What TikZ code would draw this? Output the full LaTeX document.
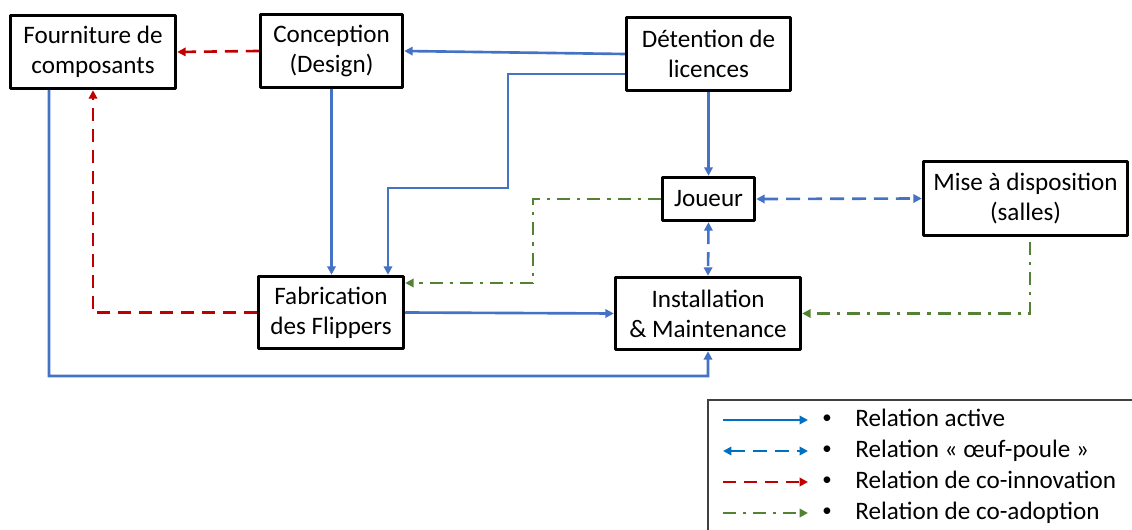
\documentclass[tikz,border=0pt]{standalone}
\usepackage{fontspec}
\setmainfont{Carlito}
\usepackage{tikz}
\usetikzlibrary{arrows.meta}
\definecolor{actblue}{HTML}{4472C4}
\definecolor{legblue}{HTML}{0070C0}
\definecolor{inored}{HTML}{C00000}
\definecolor{adopgreen}{HTML}{548235}

\begin{document}
\begin{tikzpicture}
[x=0.02cm,y=-0.02cm,>={Triangle[length=4.8pt,width=4.8pt]},
font=\fontsize{14.3}{17.2}\selectfont,
box/.style={draw=black,line width=2pt,line join=round,align=center,inner sep=0pt},
active/.style={->,line width=1.5pt,actblue},
oeuf/.style={<->,line width=1.5pt,actblue,dash pattern=on 8pt off 4.5pt},
coinno/.style={->,line width=1.5pt,inored,dash pattern=on 7.4pt off 4.5pt},
coadop/.style={->,line width=1.5pt,adopgreen,dash pattern=on 7.4pt off 4pt on 1.8pt off 4pt}]

\useasboundingbox (0,0) rectangle (1132,530);

\node[box,minimum width=3.3cm,minimum height=1.46cm] (fourn) at (93,52) {Fourniture de\\composants};
\node[box,minimum width=2.84cm,minimum height=1.46cm] (concep) at (331.5,51) {Conception\\(Design)};
\node[box,minimum width=3.28cm,minimum height=1.46cm] (deten) at (708.5,54) {Détention de\\licences};
\node[box,minimum width=1.84cm,minimum height=0.86cm] (joueur) at (708.5,199) {Joueur};
\node[box,minimum width=4.08cm,minimum height=1.48cm] (mise) at (1025.5,198.5) {Mise à disposition\\(salles)};
\node[box,minimum width=2.9cm,minimum height=1.44cm] (fabric) at (331,312.5) {Fabrication\\des Flippers};
\node[box,minimum width=3.7cm,minimum height=1.44cm] (instal) at (708,313.5) {Installation\\\& Maintenance};

\coordinate (k1) at (508,188);
\coordinate (k2) at (533,283);
\coordinate (k3) at (49,376);

\draw[coinno] (concep.west) -- (fourn.east);
\draw[active] (deten.west) -- (concep.east);
\draw[active] ([yshift=-0.4cm]deten.west) -| (k1) -| ([xshift=1.14cm]fabric.north);
\draw[active] (concep.south) -- (concep.south |- fabric.north);
\draw[active] (deten.south) -- (joueur.north);
\draw[oeuf] (joueur.east) -- (mise.west);
\draw[oeuf] (joueur.south) -- (instal.north);
\draw[coadop] (joueur.west) -| (k2) -- (k2 -| fabric.east);
\draw[coadop] ([xshift=0.09cm,yshift=-0.09cm]mise.south) |- (instal.east);
\draw[active] (fabric.east) -- (instal.west);
\draw[coinno] (fabric.west) -| (fourn.south);
\draw[active] ([xshift=-0.88cm]fourn.south) -- (k3) -| (instal.south);

% legende
\draw[gray!50!black,line width=0.8pt] (708,400) rectangle (1150,550);
\foreach \sty/\col/\txt [count=\i] in {active/legblue/Relation active,oeuf/legblue/Relation « œuf-poule »,coinno/inored/Relation de co-innovation,coadop/adopgreen/Relation de co-adoption}
{
  \coordinate (la\i) at (723,{389+31*\i});
  \coordinate (lb\i) at (808,{389+31*\i});
  \draw[\sty,\col] (la\i) -- (lb\i);
  \node[anchor=base,inner sep=0pt] (lp\i) at (827,{392+31*\i}) {\scalebox{0.75}{•}};
  \node[anchor=base west,inner sep=0pt] (lt\i) at (855,{395+31*\i}) {\txt};
}
\end{tikzpicture}
\end{document}
